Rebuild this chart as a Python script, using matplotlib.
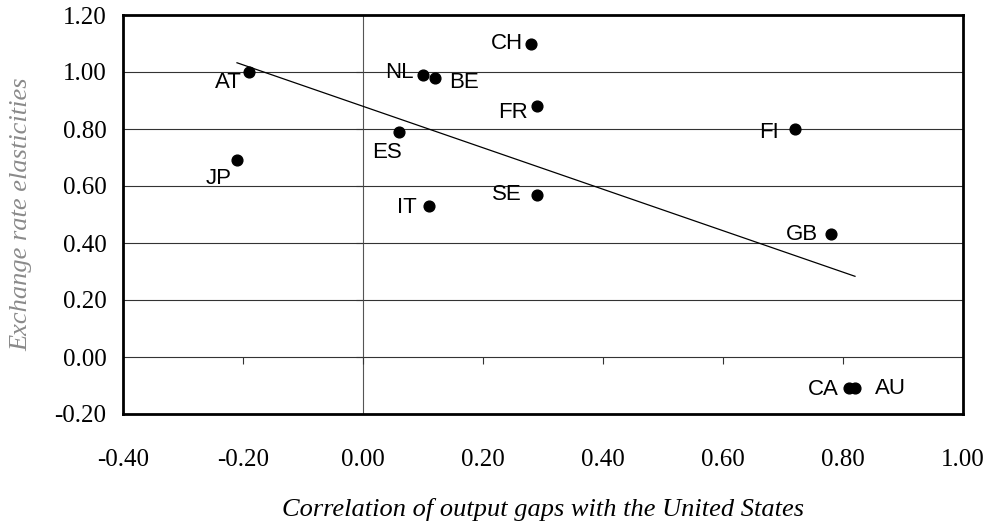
import matplotlib
matplotlib.use("Agg")
import matplotlib.pyplot as plt
import numpy as np

countries = ["AT", "JP", "NL", "BE", "ES", "IT", "CH", "FR", "SE", "FI", "GB", "CA", "AU"]
output_corr = [-0.19, -0.21, 0.10, 0.12, 0.06, 0.11, 0.28, 0.29, 0.29, 0.72, 0.78, 0.81, 0.82]
elasticity = [1.00, 0.69, 0.99, 0.98, 0.79, 0.53, 1.10, 0.88, 0.57, 0.80, 0.43, -0.11, -0.11]

x_ticks = [-0.40, -0.20, 0.00, 0.20, 0.40, 0.60, 0.80, 1.00]
y_ticks = [-0.20, 0.00, 0.20, 0.40, 0.60, 0.80, 1.00, 1.20]

# label placement (pixels from the dot) and alignment
label_pos = {
    "AT": (-7, -11, "right"), "JP": (-5, -18, "right"), "NL": (-9, 2, "right"),
    "BE": (14, -5, "left"), "ES": (-12, -21, "center"), "IT": (-12, -2, "right"),
    "CH": (-8, 0, "right"), "FR": (-9, -6, "right"), "SE": (-15, 0, "right"),
    "FI": (-16, -4, "right"), "GB": (-13, 0, "right"), "CA": (-10, -1, "right"),
    "AU": (20, 0, "left"),
}

fig = plt.figure(figsize=(9.86, 5.25), dpi=100)
ax = fig.add_axes([123 / 986, 111 / 525, 840 / 986, 399 / 525])

ax.set_xlim(-0.40, 1.00)
ax.set_ylim(-0.20, 1.20)

for y in y_ticks[1:-1]:
    ax.axhline(y, color="#333333", lw=0.8, zorder=1)
ax.axvline(0, color="#555555", lw=0.8, zorder=1)

# tick marks on the axes that cross at zero
ax.vlines(x_ticks[1:-1], -0.025, 0, color="#333333", lw=0.8)
ax.hlines(y_ticks[1:-1], -0.011, 0, color="#333333", lw=0.8)

x = np.array(output_corr)
y = np.array(elasticity)
slope, icpt = np.polyfit(x, y, 1)
xs = np.array([x.min(), x.max()])
ax.plot(xs, icpt + slope * xs, color="black", lw=0.9, zorder=2)

ax.scatter(x, y, s=60, color="black", zorder=3)

for c, xi, yi in zip(countries, x, y):
    dx, dy, ha = label_pos[c]
    ax.annotate(c, (xi, yi), xytext=(dx, dy), textcoords="offset pixels",
                ha=ha, va="center", fontsize=16, family="Liberation Sans")

ax.set_xticks(x_ticks)
ax.set_yticks(y_ticks)
ax.set_xticklabels([f"{t:.2f}" for t in x_ticks], family="Liberation Serif", fontsize=18)
ax.set_yticklabels([f"{t:.2f}" for t in y_ticks], family="Liberation Serif", fontsize=18)
ax.tick_params(axis="x", length=0, pad=25.5)
ax.tick_params(axis="y", length=0, pad=12)

for s in ax.spines.values():
    s.set_linewidth(2)
    s.set_color("black")

ax.set_xlabel("Correlation of output gaps with the United States", family="Liberation Serif",
              style="italic", fontsize=19, va="center")
ax.xaxis.set_label_coords(0.5, -0.2406)
ax.set_ylabel("Exchange rate elasticities", family="Liberation Serif", style="italic",
              fontsize=19, color="#8a8a8a", va="center")
ax.yaxis.set_label_coords(-0.1214, 0.5)

fig.savefig("out.png", dpi=100)
